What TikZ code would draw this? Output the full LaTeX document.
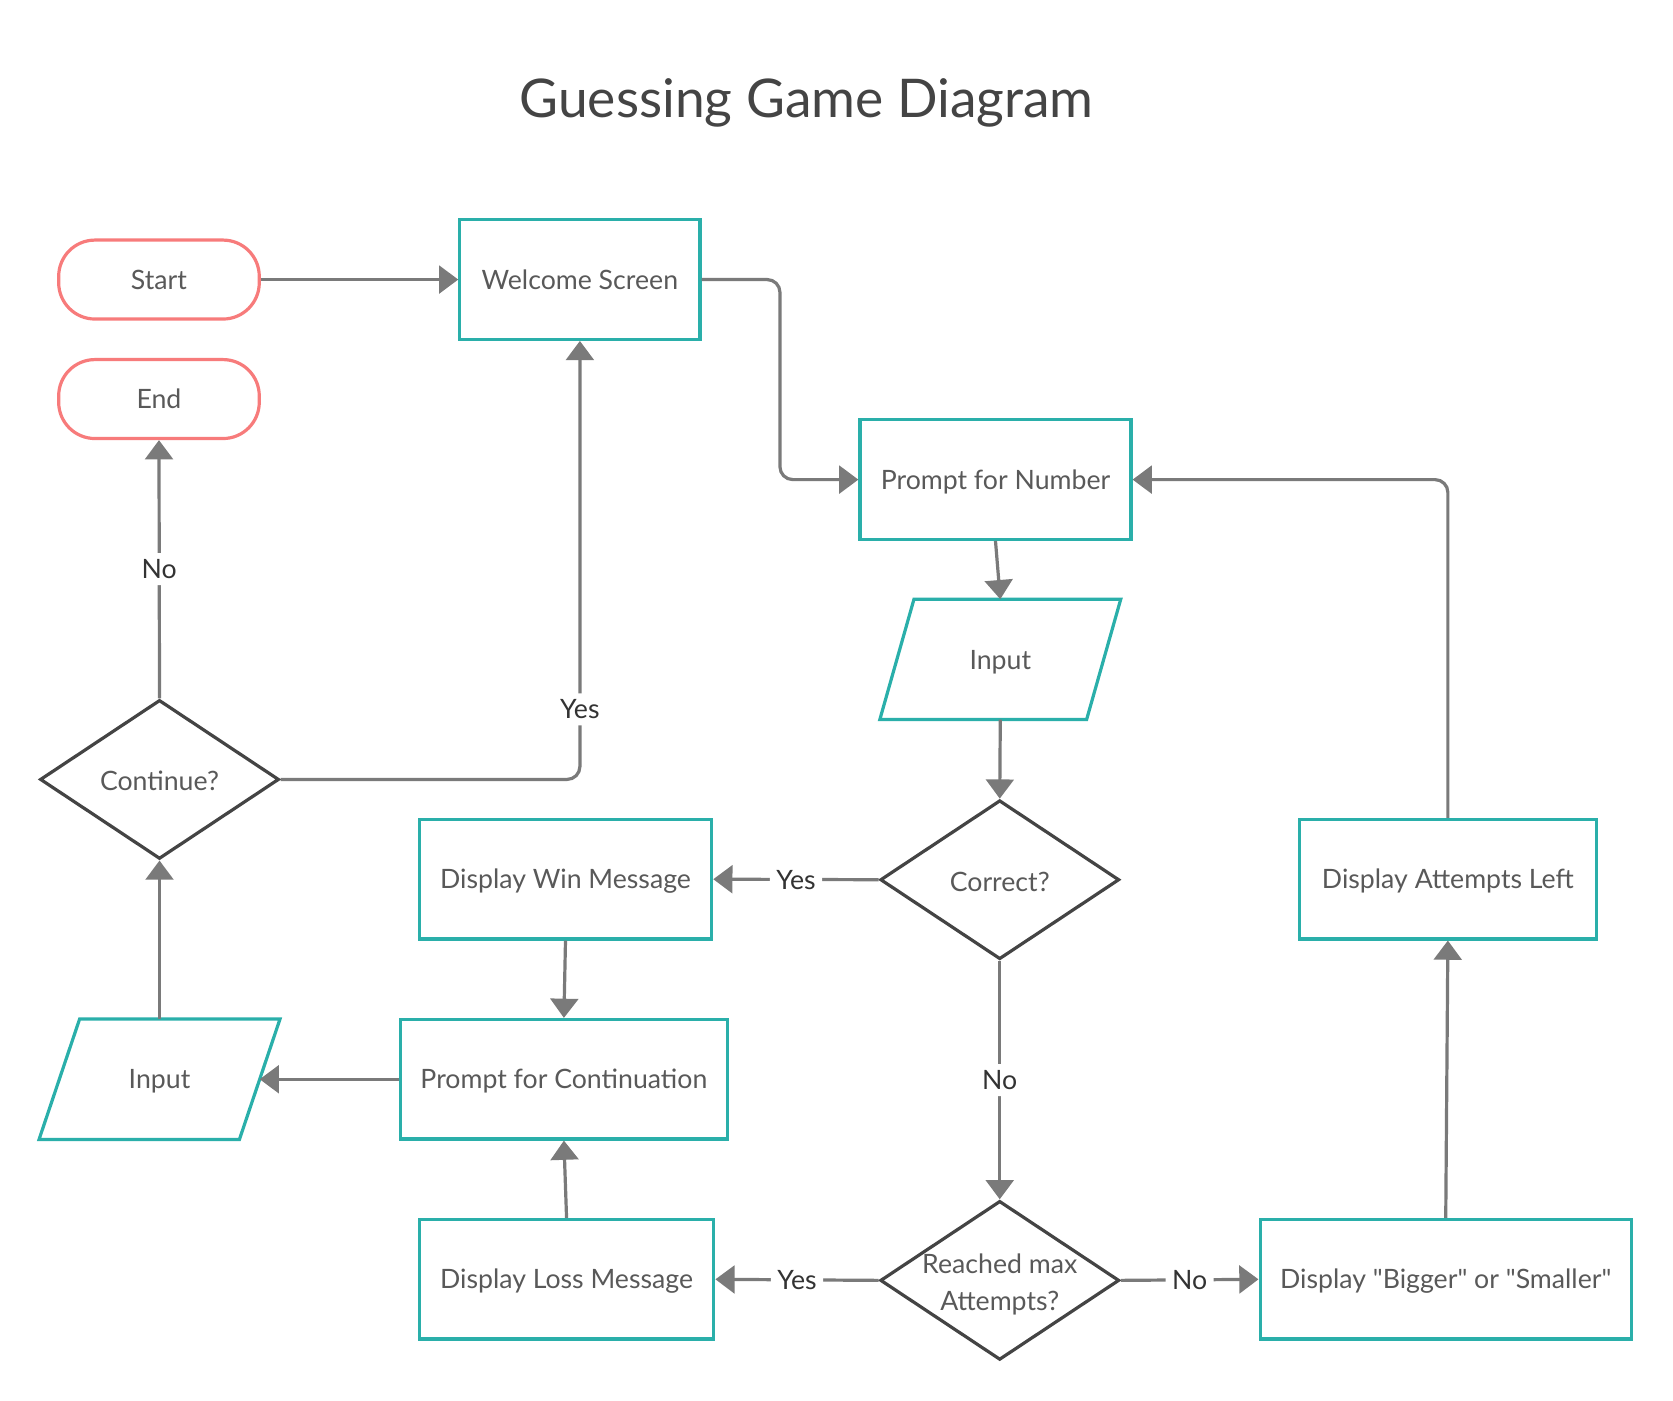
\documentclass[tikz,border=0pt]{standalone}
\usepackage{fontspec}
\setmainfont{Lato}[Ligatures=TeXOff]
\usetikzlibrary{shapes.geometric,arrows.meta}
\definecolor{teal1}{HTML}{2AAFAA}
\definecolor{pink1}{HTML}{F77B7B}
\definecolor{dia}{HTML}{444444}
\definecolor{arr}{HTML}{7A7A7A}
\definecolor{txt}{HTML}{595959}
\definecolor{labc}{HTML}{333333}
\definecolor{titlec}{HTML}{444444}
\newcommand{\dtext}[2]{\makebox[0pt]{\smash{\raisebox{#1}{\fontsize{12.5}{17}\selectfont\begin{tabular}{@{}c@{}}#2\end{tabular}}}}}
\begin{document}
\begin{tikzpicture}[x=0.5pt,y=-0.5pt,
  every node/.style={font=\fontsize{12.5}{15}\selectfont, text=txt},
  fixt/.style={text height=9pt, text depth=0pt},
  proc/.style={fixt, draw=teal1, line width=1.5pt, minimum width=#1, minimum height=56pt, inner sep=0pt},
  term/.style={fixt, draw=pink1, line width=1.5pt, rounded corners=17pt, minimum width=94pt, minimum height=37pt, inner sep=0pt},
  dec/.style={diamond, draw=dia, line width=1.5pt, minimum width=112pt, minimum height=74.5pt, inner sep=0pt},
  iobox/.style={fixt, minimum width=112.5pt, minimum height=56pt, inner sep=0pt},
  iobord/.style={draw=teal1, line width=1.5pt},
  conn/.style={draw=arr, line width=1.5pt, -{Triangle[length=9pt,width=13pt]}, rounded corners=6pt},
  lab/.style={fixt, fill=white, text=labc, inner sep=3pt}]
\useasboundingbox (0,0) rectangle (1568,1313);
\node[font=\fontsize{25}{30}\selectfont, text=titlec] (title) at (756,96) {Guessing Game Diagram};

\node[term] (start) at (149,262) {Start};
\node[term] (end) at (149,374) {End};
\node[proc=112.5pt] (welcome) at (543.5,262) {Welcome Screen};
\node[proc=127pt] (prompt) at (933,449.5) {Prompt for Number};
\node[iobox] (inR) at (937.5,618) {Input};
\draw[iobord] ([xshift=16pt]inR.north west) -- (inR.north east) -- ([xshift=-16pt]inR.south east) -- (inR.south west) -- cycle;
\node[dec] (correct) at (937,824.5) {\dtext{-5pt}{Correct?}};
\node[dec] (reached) at (937,1200) {\dtext{-5pt}{Reached max\\Attempts?}};
\node[proc=137pt] (win) at (530,824) {Display Win Message};
\node[proc=153.5pt] (pc) at (528.5,1011.5) {Prompt for Continuation};
\node[proc=138pt] (loss) at (531,1199) {Display Loss Message};
\node[iobox] (inL) at (149.5,1011.5) {Input};
\draw[iobord] ([xshift=19pt]inL.north west) -- (inL.north east) -- ([xshift=-19pt]inL.south east) -- (inL.south west) -- cycle;
\coordinate (inLr) at ([xshift=-9.5pt]inL.east);
\node[dec] (cont) at (149.5,730.5) {\dtext{-5pt}{Continue?}};
\node[proc=139pt] (att) at (1357,824) {Display Attempts Left};
\node[proc=174pt] (big) at (1355,1199) {Display "Bigger" or "Smaller"};

\draw[conn] (start) -- (welcome);
\draw[conn] (welcome.east) -- (731,262) -- (731,449.5) -- (prompt.west);
\draw[conn] (prompt.south) -- (inR.north);
\draw[conn] (inR.south) -- (correct.north);
\draw[conn] (correct.west) -- node[lab] {Yes} (win.east);
\draw[conn] (correct.south) -- node[lab] {No} (reached.north);
\draw[conn] (reached.west) -- node[lab] {Yes} (loss.east);
\draw[conn] (reached.east) -- node[lab] {No} (big.west);
\draw[conn] (big.north) -- (att.south);
\draw[conn] (att.north) |- (prompt.east);
\draw[conn] (win.south) -- (pc.north);
\draw[conn] (loss.north) -- (pc.south);
\draw[conn] (pc.west) -- (inLr);
\draw[conn] (inL.north) -- (cont.south);
\draw[conn] (cont.north) -- node[lab] {No} (end.south);
\draw[conn] (cont.east) -| node[lab, pos=0.58] {Yes} (welcome.south);
\end{tikzpicture}
\end{document}
